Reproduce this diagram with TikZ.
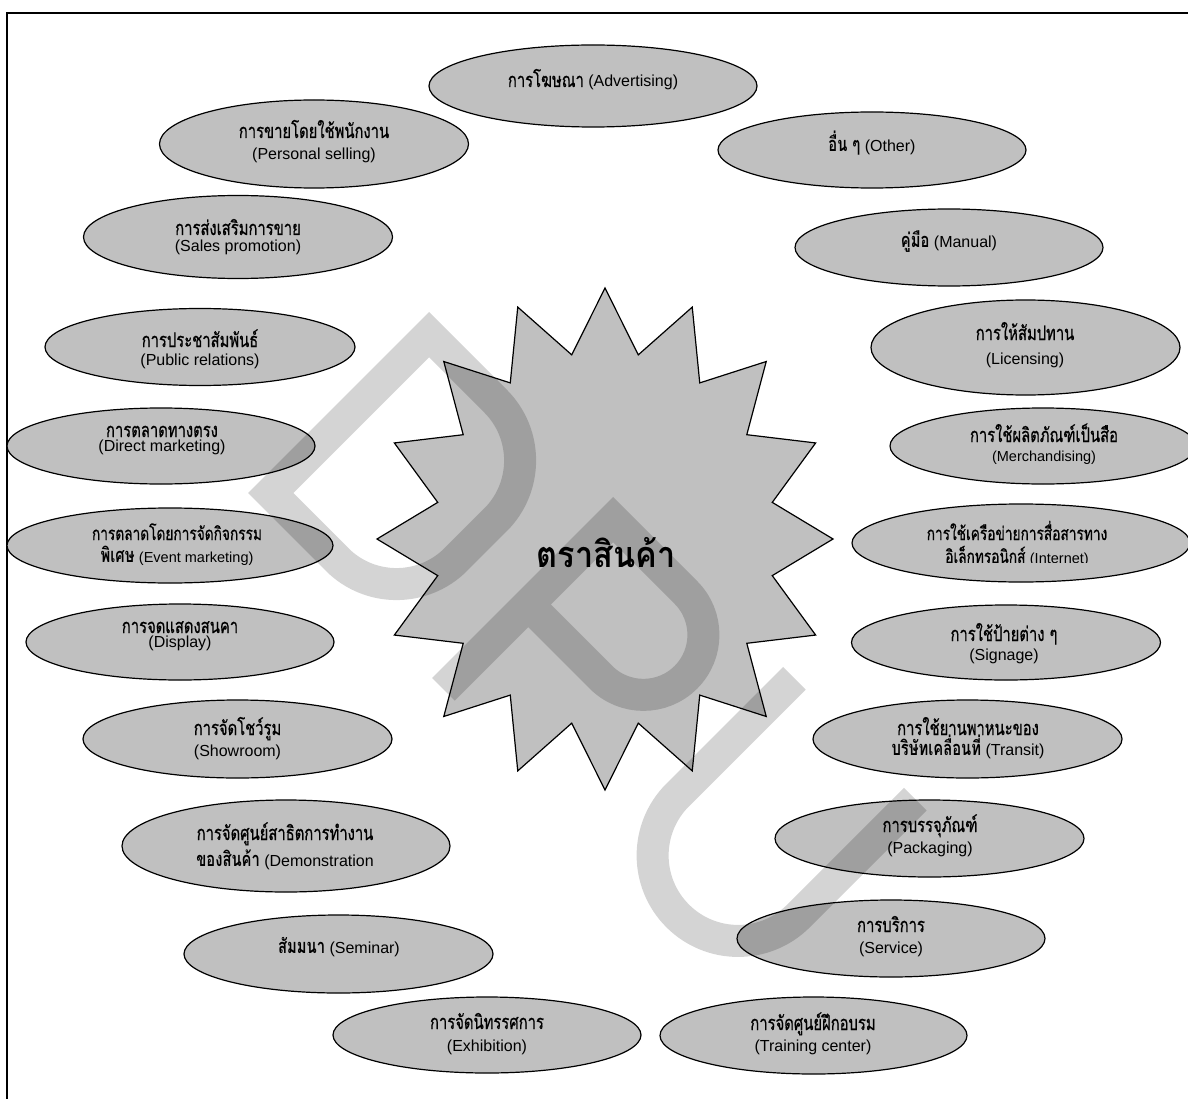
\documentclass[tikz,border=0pt]{standalone}
\usepackage{fontspec}
\setmainfont{Liberation Sans}
\newfontfamily\thf[Script=Thai, FakeStretch=0.74, FakeBold=0.6]{Loma}
\newfontfamily\thbf[Script=Thai, FakeStretch=0.74]{Loma}
\newfontfamily\thcf[Script=Thai, FakeStretch=0.9]{Loma}
\usetikzlibrary{shapes.geometric}
\definecolor{bubble}{HTML}{C0C0C0}
\newcommand\thx[1]{{\thf\fontsize{20}{22}\selectfont #1}}
\newcommand\thb[1]{{\thbf\bfseries\fontsize{20}{22}\selectfont #1}}
\newcommand\ths[1]{{\thf\fontsize{18.5}{20}\selectfont #1}}
% ellipse: name, x, y, width, height
\newcommand\bub[5]{\node[oval, minimum width=#4pt, minimum height=#5pt] (#1) at (#2,#3) {};}
% text line: name, x, baseline y, text
\newcommand\lin[4]{\node[lbl] (#1) at (#2,#3) {#4};}
\begin{document}
\begin{tikzpicture}[x=1pt, y=-1pt,
  oval/.style={ellipse, draw=black, line width=1.2pt, fill=bubble, inner sep=0pt},
  lbl/.style={anchor=base, inner sep=0pt, font=\fontsize{16}{18}\selectfont},
  small/.style={font=\fontsize{14.5}{16}\selectfont},
  wm/.style={black, opacity=0.17, line width=32pt, line cap=butt, line join=miter}]
\useasboundingbox (0,0) rectangle (1188,1099);
\fill[white] (0,0) rectangle (1188,1099);
\draw[line width=1.5pt] (7,13) rectangle (1200,1110);

% central star
\draw[line width=1.2pt, fill=bubble, line join=miter]
  plot[variable=\k, samples at={0,...,31}]
  ({605+228*(0.874+0.126*cos(180*\k))*cos(90+11.25*\k)},
   {539-251*(0.874+0.126*cos(180*\k))*sin(90+11.25*\k)}) -- cycle;
\node[font={\thcf\bfseries\fontsize{36}{40}\selectfont}, anchor=base, inner sep=0pt] (brand) at (606,567) {ตราสินค้า};

% ellipses
\bub{adv}{593}{86}{328}{82}
\bub{pers}{314}{144}{309}{88}
\bub{other}{872}{150}{308}{76}
\bub{sales}{238}{237}{309}{83}
\bub{manual}{949}{247.5}{308}{77}
\bub{pr}{200}{347}{310}{77}
\bub{lic}{1025.5}{347.5}{309}{95}
\bub{dm}{161}{446}{308}{76}
\bub{merch}{1043}{446}{306}{76}
\bub{event}{170}{545.5}{326}{75}
\bub{inet}{1021}{543}{338}{78}
\bub{disp}{180}{642}{308}{76}
\bub{sign}{1006}{642.5}{309}{75}
\bub{show}{237.5}{739}{309}{78}
\bub{trans}{967.5}{739}{309}{78}
\bub{demo}{286}{846}{328}{92}
\bub{pack}{929.5}{838.5}{309}{77}
\bub{semi}{338.5}{954}{309}{78}
\bub{serv}{891}{938.5}{308}{77}
\bub{exhi}{487}{1035}{308}{76}
\bub{train}{813.5}{1035.5}{307}{77}

% labels
\lin{advT}{593}{87}{\thx{การโฆษณา} (Advertising)}
\lin{persA}{314}{138}{\thx{การขายโดยใช้พนักงาน}}
\lin{persB}{314}{160}{(Personal selling)}
\lin{otherT}{872}{152}{\thb{อื่น ๆ} (Other)}
\lin{salesA}{238}{235}{\thx{การส่งเสริมการขาย}}
\lin{salesB}{238}{252}{(Sales promotion)}
\lin{manualT}{949}{248}{\thb{คู่มือ} (Manual)}
\lin{prA}{200}{347}{\thx{การประชาสัมพันธ์}}
\lin{prB}{200}{365}{(Public relations)}
\lin{licA}{1025}{340}{\thx{การให้สัมปทาน}}
\lin{licB}{1025}{364}{(Licensing)}
\lin{dmA}{162}{437}{\thx{การตลาดทางตรง}}
\lin{dmB}{162}{451}{(Direct marketing)}
\lin{merchA}{1044}{442}{\thx{การใช้ผลิตภัณฑ์เป็นสือ}}
\node[lbl, small] (merchB) at (1044,461) {(Merchandising)};
\lin{eventA}{177}{540}{\ths{การตลาดโดยการจัดกิจกรรม}}
\lin{eventB}{177}{562}{\thb{พิเศษ} {\fontsize{14.5}{16}\selectfont(Event marketing)}}
\lin{inetA}{1017}{540}{\ths{การใช้เครือข่ายการสื่อสารทาง}}
\begin{scope}
  \clip (800,500) rectangle (1188,562);
  \lin{inetB}{1017}{563}{\ths{อิเล็กทรอนิกส์} {\fontsize{14.5}{16}\selectfont(Internet)}}
\end{scope}
\begin{scope}
  \clip (0,621.5) rectangle (400,700);
  \lin{dispA}{180}{633}{\thx{การจัดแสดงสินค้า}}
\end{scope}
\lin{dispB}{180}{647}{(Display)}
\lin{signA}{1004}{641}{\thx{การใช้ป้ายต่าง ๆ}}
\lin{signB}{1004}{660}{(Signage)}
\lin{showA}{237.5}{735}{\thx{การจัดโชว์รูม}}
\lin{showB}{237.5}{756}{(Showroom)}
\lin{transA}{968}{735}{\thx{การใช้ยานพาหนะของ}}
\lin{transB}{968}{755}{\thb{บริษัทเคลื่อนที่} (Transit)}
\lin{demoA}{285}{840}{\thx{การจัดศูนย์สาธิตการทำงาน}}
\lin{demoB}{285}{866}{\thb{ของสินค้า} (Demonstration}
\lin{packA}{930}{832}{\thx{การบรรจุภัณฑ์}}
\lin{packB}{930}{853}{(Packaging)}
\lin{semiT}{339}{953}{\thb{สัมมนา} (Seminar)}
\lin{servA}{891}{932}{\thx{การบริการ}}
\lin{servB}{891}{953}{(Service)}
\lin{exhiA}{487}{1029}{\thx{การจัดนิทรรศการ}}
\lin{exhiB}{487}{1051}{(Exhibition)}
\lin{trainA}{813}{1030}{\thx{การจัดศูนย์ฝึกอบรม}}
\lin{trainB}{813}{1051}{(Training center)}

% translucent DPU watermark, letters set along a diagonal baseline
\begin{scope}[wm]
  \begin{scope}[shift={(248,493)}, x={(0.7071pt,-0.7071pt)}, y={(0.7071pt,0.7071pt)}]
    \draw (16,16) -- (16,240) -- (110,240) arc[start angle=90, end angle=0, radius=84]
      -- (194,100) arc[start angle=0, end angle=-90, radius=84] -- cycle;
  \end{scope}
  \begin{scope}[shift={(432,678)}, x={(0.7071pt,-0.7071pt)}, y={(0.7071pt,0.7071pt)}]
    \draw (16,0) -- (16,240) -- (119,240) arc[start angle=90, end angle=-90, radius=60] -- (16,120);
  \end{scope}
  \begin{scope}[shift={(602,848)}, x={(0.7071pt,-0.7071pt)}, y={(0.7071pt,0.7071pt)}]
    \draw (16,256) -- (16,91) arc[start angle=180, end angle=360, radius=85.5] -- (187,256);
  \end{scope}
\end{scope}
\end{tikzpicture}
\end{document}
